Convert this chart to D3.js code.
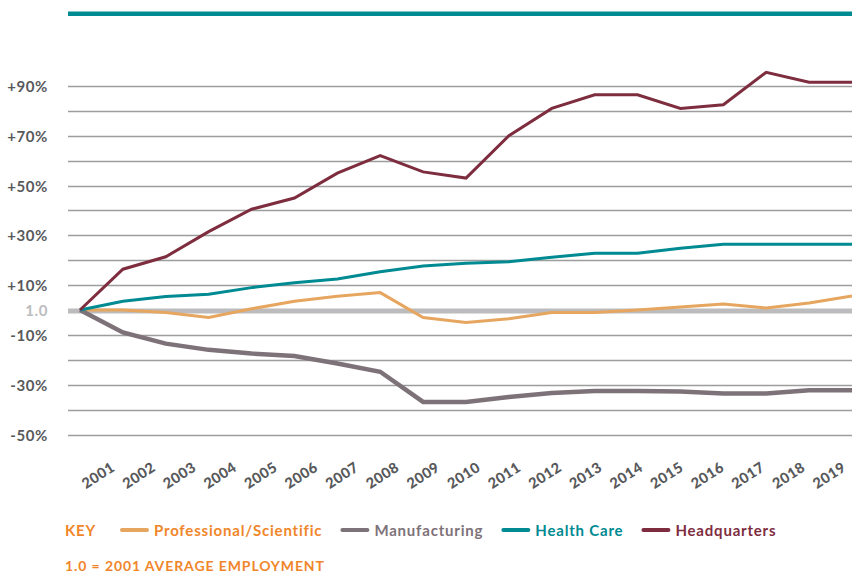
<!DOCTYPE html>
<html>
<head>
<meta charset="utf-8">
<script src="https://cdn.jsdelivr.net/npm/d3@7"></script>
<style>
  html, body { margin: 0; padding: 0; background: #fff; }
  svg { display: block; font-family: "Lato", "DejaVu Sans", sans-serif; }
</style>
</head>
<body>
<svg id="chart" width="852" height="574"></svg>
<script>
const years = [2001,2002,2003,2004,2005,2006,2007,2008,2009,2010,2011,2012,2013,2014,2015,2016,2017,2018,2019];
const professional = [0, 0, -1, -3, 0.5, 3.5, 5.5, 7, -3, -5, -3.5, -1, -1, 0, 1.2, 2.4, 0.8, 2.8, 5.6];
const manufacturing = [0, -9, -13.5, -16, -17.5, -18.5, -21.5, -24.8, -36.9, -36.9, -34.9, -33.3, -32.5, -32.5, -32.7, -33.5, -33.5, -32.2, -32.2];
const healthCare = [0, 3.5, 5.4, 6.3, 9, 11, 12.5, 15.4, 17.7, 18.8, 19.4, 21.2, 22.8, 22.8, 24.8, 26.4, 26.4, 26.4, 26.4];
const headquarters = [0, 16.4, 21.4, 31.5, 40.5, 45, 55, 62, 55.5, 53, 70, 81, 86.5, 86.5, 81, 82.5, 95.5, 91.5, 91.5];
const gridValues = [90, 80, 70, 60, 50, 40, 30, 20, 10, -10, -20, -30, -40, -50];
const tickLabels = [
  {v: 90, t: "+90%"}, {v: 70, t: "+70%"}, {v: 50, t: "+50%"}, {v: 30, t: "+30%"},
  {v: 10, t: "+10%"}, {v: 0, t: "1.0"}, {v: -10, t: "-10%"}, {v: -30, t: "-30%"}, {v: -50, t: "-50%"}
];
const seriesNames = ["Professional/Scientific", "Manufacturing", "Health Care", "Headquarters"];
const seriesColors = ["#E6A65F", "#7E7279", "#008A92", "#7E2D3F"];
const seriesTextColors = ["#F0862A", "#7E7279", "#008A92", "#7E2D3F"];
const seriesWidths = [3, 4.5, 3, 3];
const seriesData = [professional, manufacturing, healthCare, headquarters];

const svg = d3.select("#chart");
const x = d3.scalePoint().domain(years).range([80, 852]);
const xLab = d3.scalePoint().domain(years).range([98, 829]);
const y = d3.scaleLinear().domain([-50, 90]).range([434.5, 86]);

// top teal bar
svg.append("line").attr("x1", 68).attr("x2", 852).attr("y1", 13.8).attr("y2", 13.8)
  .attr("stroke", "#008A92").attr("stroke-width", 4.5);

// gridlines
svg.append("g").selectAll("line").data(gridValues).join("line")
  .attr("x1", 68).attr("x2", 852)
  .attr("y1", d => Math.round(y(d)) + 0.5).attr("y2", d => Math.round(y(d)) + 0.5)
  .attr("stroke", "#9d9d9d").attr("stroke-width", 1.5);

// baseline
svg.append("line").attr("x1", 68).attr("x2", 852).attr("y1", y(0) + 1).attr("y2", y(0) + 1)
  .attr("stroke", "#BCBCBE").attr("stroke-width", 5);

// y labels
svg.append("g").selectAll("text").data(tickLabels).join("text")
  .attr("x", 48).attr("y", d => y(d.v))
  .attr("text-anchor", "end").attr("dominant-baseline", "central")
  .attr("font-size", 15).attr("font-weight", 700).attr("letter-spacing", 0.6)
  .attr("fill", d => d.v === 0 ? "#BCBCBE" : "#58595B")
  .text(d => d.t);

// x labels
svg.append("g").selectAll("text").data(years).join("text")
  .attr("transform", d => `translate(${xLab(d)},475) rotate(-33)`)
  .attr("text-anchor", "middle").attr("dominant-baseline", "central")
  .attr("font-size", 14.5).attr("font-weight", 900).attr("letter-spacing", 0.5)
  .attr("fill", "#58595B")
  .text(d => d);

// lines
const line = d3.line().x((d, i) => x(years[i])).y(d => y(d));
seriesData.forEach((s, k) => {
  svg.append("path").datum(s).attr("d", line)
    .attr("fill", "none").attr("stroke", seriesColors[k])
    .attr("stroke-width", seriesWidths[k]).attr("stroke-linejoin", "miter");
});

// legend
const leg = svg.append("g").attr("font-size", 15).attr("font-weight", 700).attr("letter-spacing", 0.8);
const keyT = leg.append("text").attr("x", 65).attr("y", 530).attr("dominant-baseline", "central")
  .attr("fill", "#F0862A").text("KEY");
let cx = 122;
seriesNames.forEach((n, k) => {
  leg.append("line").attr("x1", cx).attr("x2", cx + 25).attr("y1", 530).attr("y2", 530)
    .attr("stroke", seriesColors[k]).attr("stroke-width", 4).attr("stroke-linecap", "round");
  const t = leg.append("text").attr("x", cx + 32).attr("y", 530).attr("dominant-baseline", "central")
    .attr("fill", seriesTextColors[k]).text(n);
  cx = cx + 32 + t.node().getComputedTextLength() + 20;
});

svg.append("text").attr("x", 65).attr("y", 565).attr("dominant-baseline", "central")
  .attr("font-size", 14).attr("font-weight", 700).attr("letter-spacing", 0.9).attr("fill", "#F0862A")
  .text("1.0 = 2001 AVERAGE EMPLOYMENT");
</script>
</body>
</html>
